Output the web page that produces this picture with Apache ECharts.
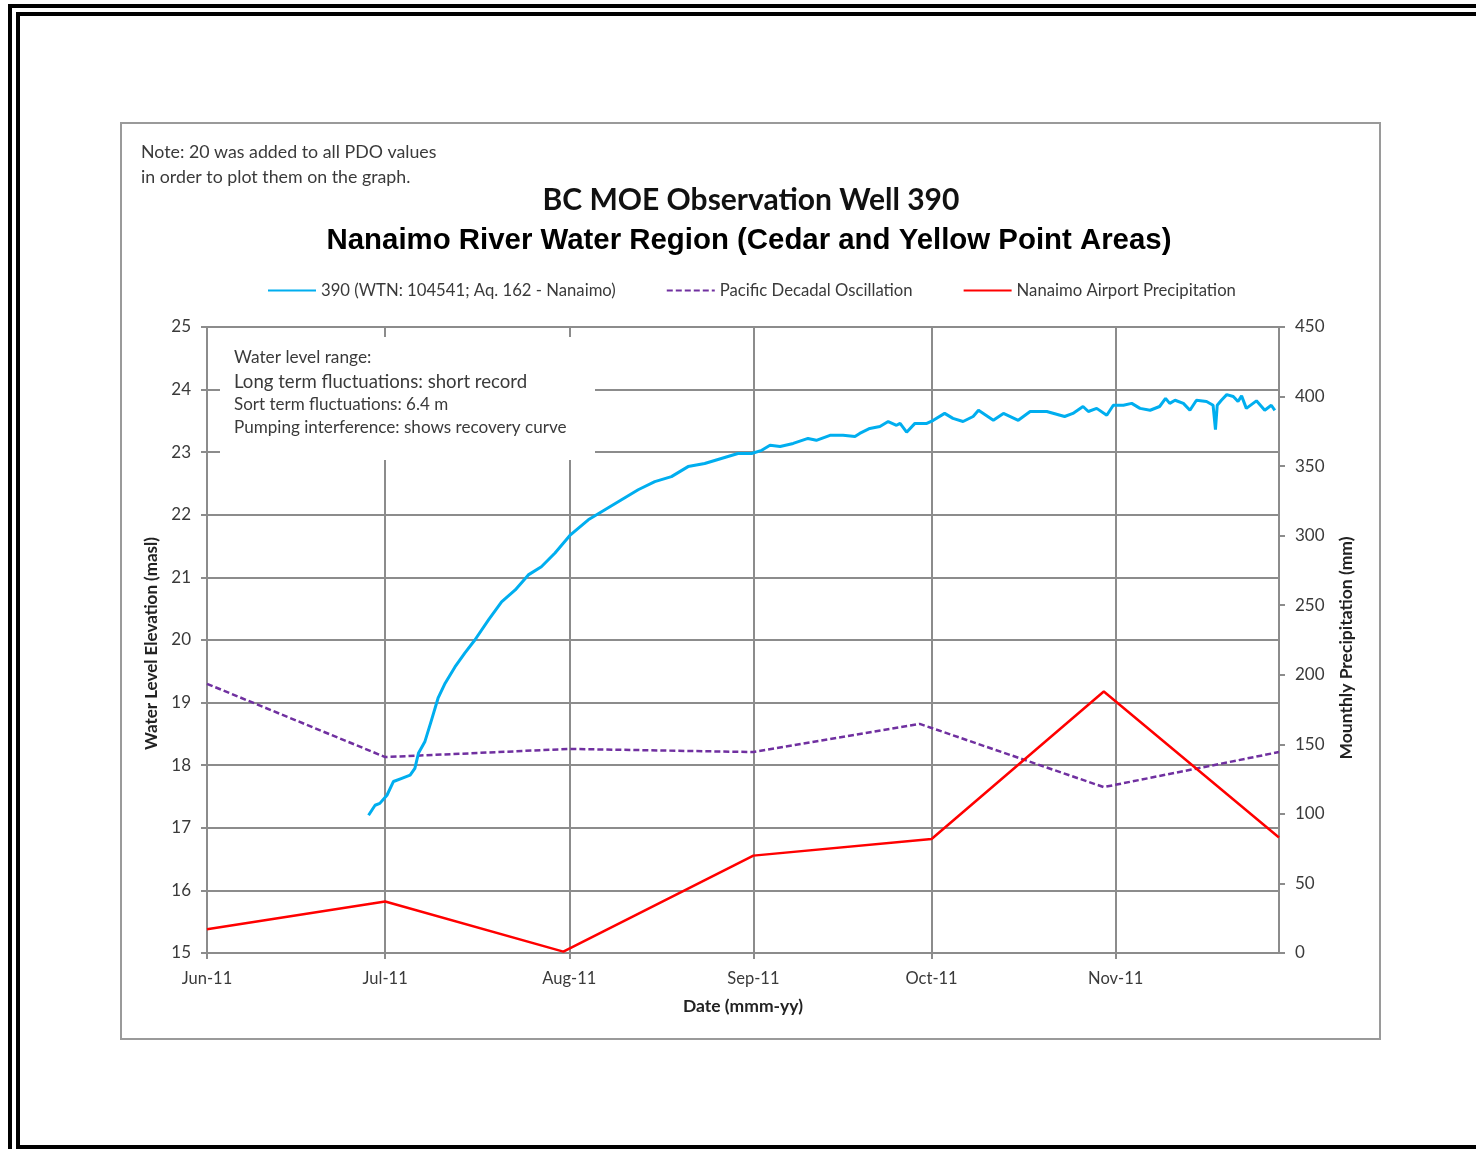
<!DOCTYPE html>
<html>
<head>
<meta charset="utf-8">
<script src="https://cdn.jsdelivr.net/npm/echarts@6/dist/echarts.min.js"></script>
<style>
  html, body { margin: 0; padding: 0; background: #ffffff; }
  #chart { width: 1476px; height: 1149px; }
</style>
</head>
<body>
<div id="chart"></div>
<script>
// ---------- data ----------
const startDateUTC = Date.UTC(2011, 5, 1);      // Jun 1 2011 = day 0
const axisEndDay = 180.5;                        // right edge of the plot (late Nov 2011)
const xTickLabels = ['Jun-11', 'Jul-11', 'Aug-11', 'Sep-11', 'Oct-11', 'Nov-11'];

const seriesNames = [
  '390 (WTN: 104541; Aq. 162 - Nanaimo)',
  'Pacific Decadal Oscillation',
  'Nanaimo Airport Precipitation'
];

// Well 390 water level (days since Jun 1 2011, masl)
const wlDay = [27.2, 28.3, 29.1, 30.3, 31.4, 32.8, 34.2, 35.0, 35.6, 36.7, 37.8, 38.9, 40.1, 41.75, 43.4,
  45.1, 47.4, 49.6, 51.9, 54.1, 56.3, 58.6, 61.2, 64.2, 67.0, 69.8, 72.6, 75.4, 78.2, 81.0, 83.8, 86.6,
  89.4, 91.7, 93.4, 94.8, 96.5, 98.7, 101.2, 102.6, 104.9, 107.1, 109.1, 109.9, 111.6, 113.3, 114.7,
  116.1, 116.7, 117.8, 119.2, 121.2, 122.3, 124.2, 125.6, 127.3, 129.0, 129.9, 132.4, 134.1, 136.6,
  138.6, 141.4, 144.4, 145.8, 147.5, 148.4, 149.8, 151.5, 152.6, 154.3, 155.7, 157.1, 158.8, 160.4,
  161.4, 162.1, 163.0, 164.4, 165.5, 166.6, 168.3, 169.4, 169.8, 170.1, 170.8, 171.7, 172.8, 173.6,
  174.2, 175.0, 176.7, 178.1, 179.2, 179.8];
const wlLevel = [17.20, 17.36, 17.39, 17.52, 17.74, 17.79, 17.84, 17.95, 18.19, 18.38, 18.72, 19.07, 19.31,
  19.57, 19.79, 20.00, 20.32, 20.61, 20.80, 21.04, 21.17, 21.39, 21.68, 21.92, 22.08, 22.24, 22.40, 22.53,
  22.61, 22.77, 22.82, 22.90, 22.98, 22.98, 23.03, 23.11, 23.09, 23.14, 23.22, 23.19, 23.27, 23.27, 23.25,
  23.30, 23.38, 23.41, 23.49, 23.43, 23.46, 23.32, 23.46, 23.46, 23.51, 23.62, 23.54, 23.49, 23.57, 23.67,
  23.51, 23.62, 23.51, 23.65, 23.65, 23.57, 23.62, 23.73, 23.65, 23.70, 23.59, 23.75, 23.75, 23.78, 23.70,
  23.67, 23.73, 23.86, 23.78, 23.83, 23.78, 23.67, 23.83, 23.81, 23.75, 23.36, 23.75, 23.83, 23.92, 23.89,
  23.81, 23.90, 23.70, 23.82, 23.67, 23.75, 23.67];

// Pacific Decadal Oscillation (+20), plotted on the left axis
const pdoDay = [0, 30, 61, 92, 120, 151, 180.5];
const pdoValue = [19.30, 18.13, 18.26, 18.21, 18.66, 17.65, 18.21];

// Nanaimo Airport monthly precipitation (mm), right axis
const precipDay = [0, 30, 60, 92, 122, 151, 180.5];
const precipValue = [17, 37, 1, 70, 82, 188, 83];

const leftTicks = { min: 15, max: 25, interval: 1 };
const rightTicks = { min: 0, max: 450, interval: 50 };

// ---------- build ----------
const DAY = 86400000;
const toTime = d => startDateUTC + d * DAY;
const pairs = (days, vals) => days.map((d, i) => [toTime(d), vals[i]]);

const FONT = 'Lato';
const GRID_GREY = '#8c8c8c';
const TXT = '#3a3a3a';

const chart = echarts.init(document.getElementById('chart'), null, { renderer: 'canvas' });

const option = {
  useUTC: true,
  animation: false,
  backgroundColor: '#ffffff',
  title: [
    {
      text: 'BC MOE Observation Well 390',
      left: 746, top: 180, textAlign: 'center',
      textStyle: { fontFamily: FONT, fontWeight: 'bold', fontSize: 30, color: '#111' }
    },
    {
      text: 'Nanaimo River Water Region (Cedar and Yellow Point Areas)',
      left: 744, top: 221, textAlign: 'center',
      textStyle: { fontFamily: 'Liberation Sans', fontWeight: 'bold', fontSize: 29.4, color: '#000' }
    }
  ],
  legend: {
    left: 262, top: 277,
    itemWidth: 48, itemHeight: 14, itemGap: 50,
    itemStyle: { opacity: 0 },
    textStyle: { fontFamily: FONT, fontSize: 16.7, color: TXT },
    data: seriesNames
  },
  grid: { left: 207, top: 327, width: 1072, height: 626, containLabel: false },
  xAxis: {
    type: 'time',
    min: toTime(0), max: toTime(axisEndDay),
    splitNumber: 6,
    minInterval: 28 * DAY, maxInterval: 31 * DAY,
    name: 'Date (mmm-yy)', nameLocation: 'middle', nameGap: 44,
    nameTextStyle: { fontFamily: FONT, fontWeight: 'bold', fontSize: 17.5, color: '#222' },
    axisLine: { show: true, lineStyle: { color: GRID_GREY, width: 2 } },
    axisTick: { show: true, inside: false, length: 6, lineStyle: { color: GRID_GREY, width: 2 } },
    minorTick: { show: false },
    splitLine: { show: true, lineStyle: { color: GRID_GREY, width: 2 } },
    axisLabel: {
      fontFamily: FONT, fontSize: 16.5, color: TXT, margin: 17,
      showMinLabel: true, showMaxLabel: false,
      formatter: function (v) {
        const d = new Date(v);
        const idx = (d.getUTCFullYear() - 2011) * 12 + d.getUTCMonth() - 5;
        return xTickLabels[idx] || '';
      }
    }
  },
  yAxis: [
    {
      type: 'value', position: 'left',
      min: leftTicks.min, max: leftTicks.max, interval: leftTicks.interval,
      name: 'Water Level Elevation (masl)', nameLocation: 'middle', nameGap: 37, nameRotate: 90,
      nameTextStyle: { fontFamily: FONT, fontWeight: 'bold', fontSize: 17, color: '#222', padding: [0, 7, 0, 0] },
      axisLine: { show: true, lineStyle: { color: GRID_GREY, width: 2 } },
      axisTick: { show: true, inside: false, length: 6, lineStyle: { color: GRID_GREY, width: 2 } },
      splitLine: { show: true, lineStyle: { color: GRID_GREY, width: 2 } },
      axisLabel: { fontFamily: FONT, fontSize: 17, color: TXT, margin: 16 }
    },
    {
      type: 'value', position: 'right',
      min: rightTicks.min, max: rightTicks.max, interval: rightTicks.interval,
      name: 'Mounthly Precipitation (mm)', nameLocation: 'middle', nameGap: 58, nameRotate: 90,
      nameTextStyle: { fontFamily: FONT, fontWeight: 'bold', fontSize: 17.5, color: '#222', padding: [0, 16, 0, 0] },
      axisLine: { show: true, lineStyle: { color: GRID_GREY, width: 2 } },
      axisTick: { show: true, inside: false, length: 6, lineStyle: { color: GRID_GREY, width: 2 } },
      splitLine: { show: false },
      axisLabel: { fontFamily: FONT, fontSize: 17, color: TXT, margin: 16 }
    }
  ],
  series: [
    {
      name: seriesNames[0], type: 'line', yAxisIndex: 0,
      data: pairs(wlDay, wlLevel),
      showSymbol: false, symbol: 'none', smooth: false,
      lineStyle: { color: '#00AEEF', width: 3 },
      itemStyle: { color: '#00AEEF' }, z: 4
    },
    {
      name: seriesNames[1], type: 'line', yAxisIndex: 0,
      data: pairs(pdoDay, pdoValue),
      showSymbol: false, symbol: 'none',
      lineStyle: { color: '#7030A0', width: 2.5, type: [6, 3] },
      itemStyle: { color: '#7030A0' }, z: 3
    },
    {
      name: seriesNames[2], type: 'line', yAxisIndex: 1,
      data: pairs(precipDay, precipValue),
      showSymbol: false, symbol: 'none',
      lineStyle: { color: '#FF0000', width: 2.5 },
      itemStyle: { color: '#FF0000' }, z: 3
    }
  ],
  graphic: [
    // page frame (double black border)
    { type: 'rect', shape: { x: 8, y: 4, width: 4, height: 1145 }, style: { fill: '#000' }, silent: true },
    { type: 'rect', shape: { x: 8, y: 4, width: 1468, height: 4 }, style: { fill: '#000' }, silent: true },
    { type: 'rect', shape: { x: 16, y: 12, width: 4, height: 1137 }, style: { fill: '#000' }, silent: true },
    { type: 'rect', shape: { x: 16, y: 12, width: 1460, height: 4 }, style: { fill: '#000' }, silent: true },
    { type: 'rect', shape: { x: 16, y: 1145, width: 1460, height: 4 }, style: { fill: '#000' }, silent: true },
    // chart area border
    { type: 'rect', shape: { x: 121, y: 123, width: 1259, height: 916 },
      style: { fill: 'none', stroke: '#9a9a9a', lineWidth: 2 }, silent: true },
    // note
    { type: 'text', x: 141, y: 140, silent: true,
      style: { text: 'Note: 20 was added to all PDO values\nin order to plot them on the graph.',
        fontFamily: FONT, fontSize: 17.8, lineHeight: 25, fill: TXT } },
    // annotation box
    { type: 'rect', z: 50, shape: { x: 220, y: 337, width: 375, height: 123 },
      style: { fill: '#ffffff' }, silent: true },
    { type: 'text', z: 51, x: 234, y: 357, silent: true,
      style: { text: 'Water level range:', fontFamily: FONT, fontSize: 17.3, fill: TXT, verticalAlign: 'middle' } },
    { type: 'text', z: 51, x: 234, y: 382, silent: true,
      style: { text: 'Long term fluctuations: short record', fontFamily: FONT, fontSize: 18.6, fill: TXT, verticalAlign: 'middle' } },
    { type: 'text', z: 51, x: 234, y: 405, silent: true,
      style: { text: 'Sort term fluctuations: 6.4 m', fontFamily: FONT, fontSize: 17, fill: TXT, verticalAlign: 'middle' } },
    { type: 'text', z: 51, x: 234, y: 427, silent: true,
      style: { text: 'Pumping interference: shows recovery curve', fontFamily: FONT, fontSize: 17.1, fill: TXT, verticalAlign: 'middle' } }
  ]
};

chart.setOption(option);
</script>
</body>
</html>
